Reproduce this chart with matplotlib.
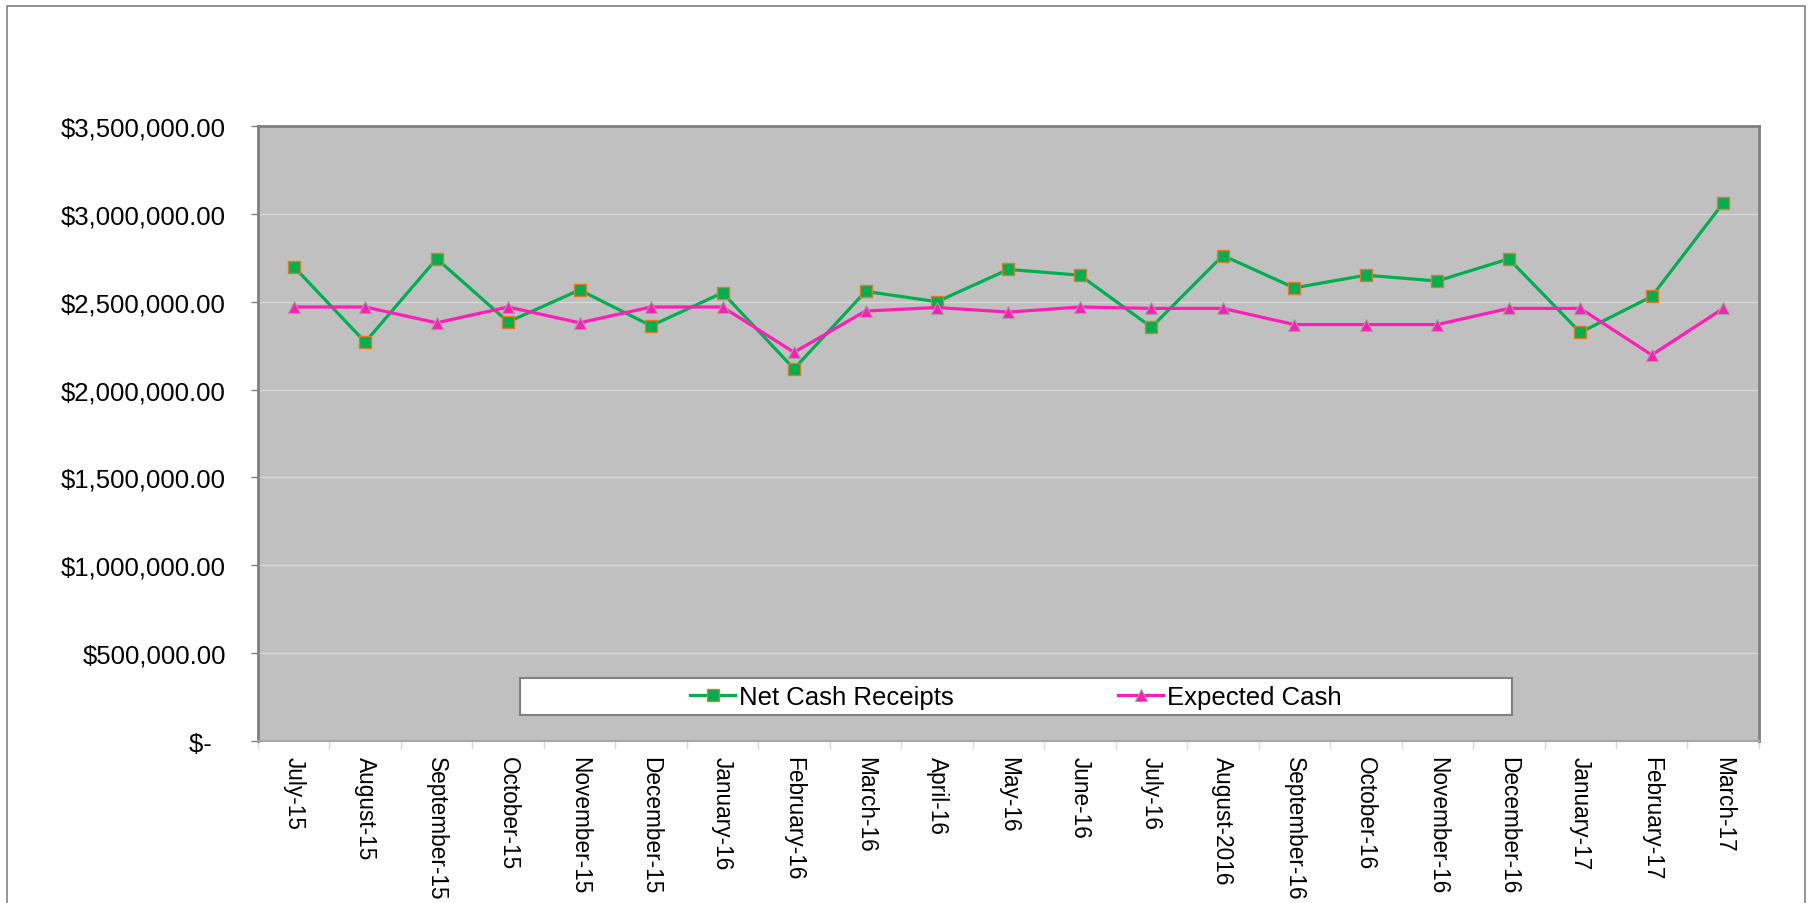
import matplotlib
matplotlib.use("Agg")
import matplotlib.pyplot as plt
from matplotlib.patches import Rectangle
from matplotlib.lines import Line2D

# datos
months = ["July-15", "August-15", "September-15", "October-15", "November-15",
          "December-15", "January-16", "February-16", "March-16", "April-16",
          "May-16", "June-16", "July-16", "August-2016", "September-16",
          "October-16", "November-16", "December-16", "January-17",
          "February-17", "March-17"]
net_cash = [2700000, 2270000, 2745000, 2385000, 2567000, 2363000, 2551000,
            2118000, 2559000, 2500000, 2684000, 2651000, 2355000, 2763000,
            2579000, 2651000, 2618000, 2744000, 2325000, 2530000, 3062000]
expected_cash = [2470000, 2470000, 2380000, 2470000, 2380000, 2470000, 2470000,
                 2212000, 2447000, 2467000, 2441000, 2470000, 2462000, 2462000,
                 2370000, 2370000, 2370000, 2462000, 2462000, 2197000, 2462000]
y_ticks = [0, 500000, 1000000, 1500000, 2000000, 2500000, 3000000, 3500000]

plt.rcParams['font.family'] = ['Liberation Sans', 'DejaVu Sans']

fig = plt.figure(figsize=(18.13, 9.04), dpi=100)
ax = fig.add_axes([0.1423, 0.1792, 0.8279, 0.6803])
ax.set_facecolor('#C0C0C0')

x = list(range(len(months)))
ax.plot(x, net_cash, color='#00B050', linewidth=2.3, marker='s', markersize=8.5,
        markerfacecolor='#00B050', markeredgecolor='#E87722', markeredgewidth=1,
        label='Net Cash Receipts', zorder=3)
ax.plot(x, expected_cash, color='#FF1DB8', linewidth=2.3, marker='^', markersize=9,
        markerfacecolor='#FF1DB8', markeredgecolor='#A0A0A0', markeredgewidth=0.8,
        label='Expected Cash', zorder=3)

ax.set_xlim(-0.5, len(months) - 0.5)
ax.set_ylim(0, 3500000)

# eje y
ax.set_yticks(y_ticks)
ax.set_yticklabels(["$-  " if v == 0 else f"${v:,.2f}" for v in y_ticks])
ax.tick_params(axis='y', labelsize=18.5, length=5, width=1, color='#808080', pad=18)
ax.grid(axis='y', color='#D9D9D9', linewidth=1)
ax.set_axisbelow(True)

# eje x: etiquetas en centros, marcas entre categorias
ax.set_xticks(x)
ax.set_xticklabels(months, rotation=270, fontsize=16.3)
ax.set_xticks([i - 0.5 for i in range(len(months) + 1)], minor=True)
ax.tick_params(axis='x', which='major', length=0, pad=10.5)
ax.tick_params(axis='x', which='minor', length=6, width=1, color='#D9D9D9')

for side in ['left', 'top', 'right']:
    ax.spines[side].set_color('#808080')
    ax.spines[side].set_linewidth(2)
ax.spines['bottom'].set_color('#A6A6A6')
ax.spines['bottom'].set_linewidth(1.5)

# caja de la leyenda
box = Rectangle((0.1745, 0.042), 0.661, 0.060, transform=ax.transAxes,
                facecolor='white', edgecolor='#808080', linewidth=1.5, zorder=4)
ax.add_patch(box)
leg = ax.legend(loc='center', bbox_to_anchor=(0.505, 0.072), ncol=2, frameon=False,
                fontsize=18.5, columnspacing=6.4, handlelength=1.75, handletextpad=0.15)
leg.set_zorder(5)

# borde exterior
fig.add_artist(Line2D([7 / 1813, 7 / 1813, 1805 / 1813, 1805 / 1813],
                      [0, 1 - 7 / 904, 1 - 7 / 904, 0],
                      transform=fig.transFigure, color='#808080', linewidth=1.2))

fig.savefig('out.png', dpi=100)
